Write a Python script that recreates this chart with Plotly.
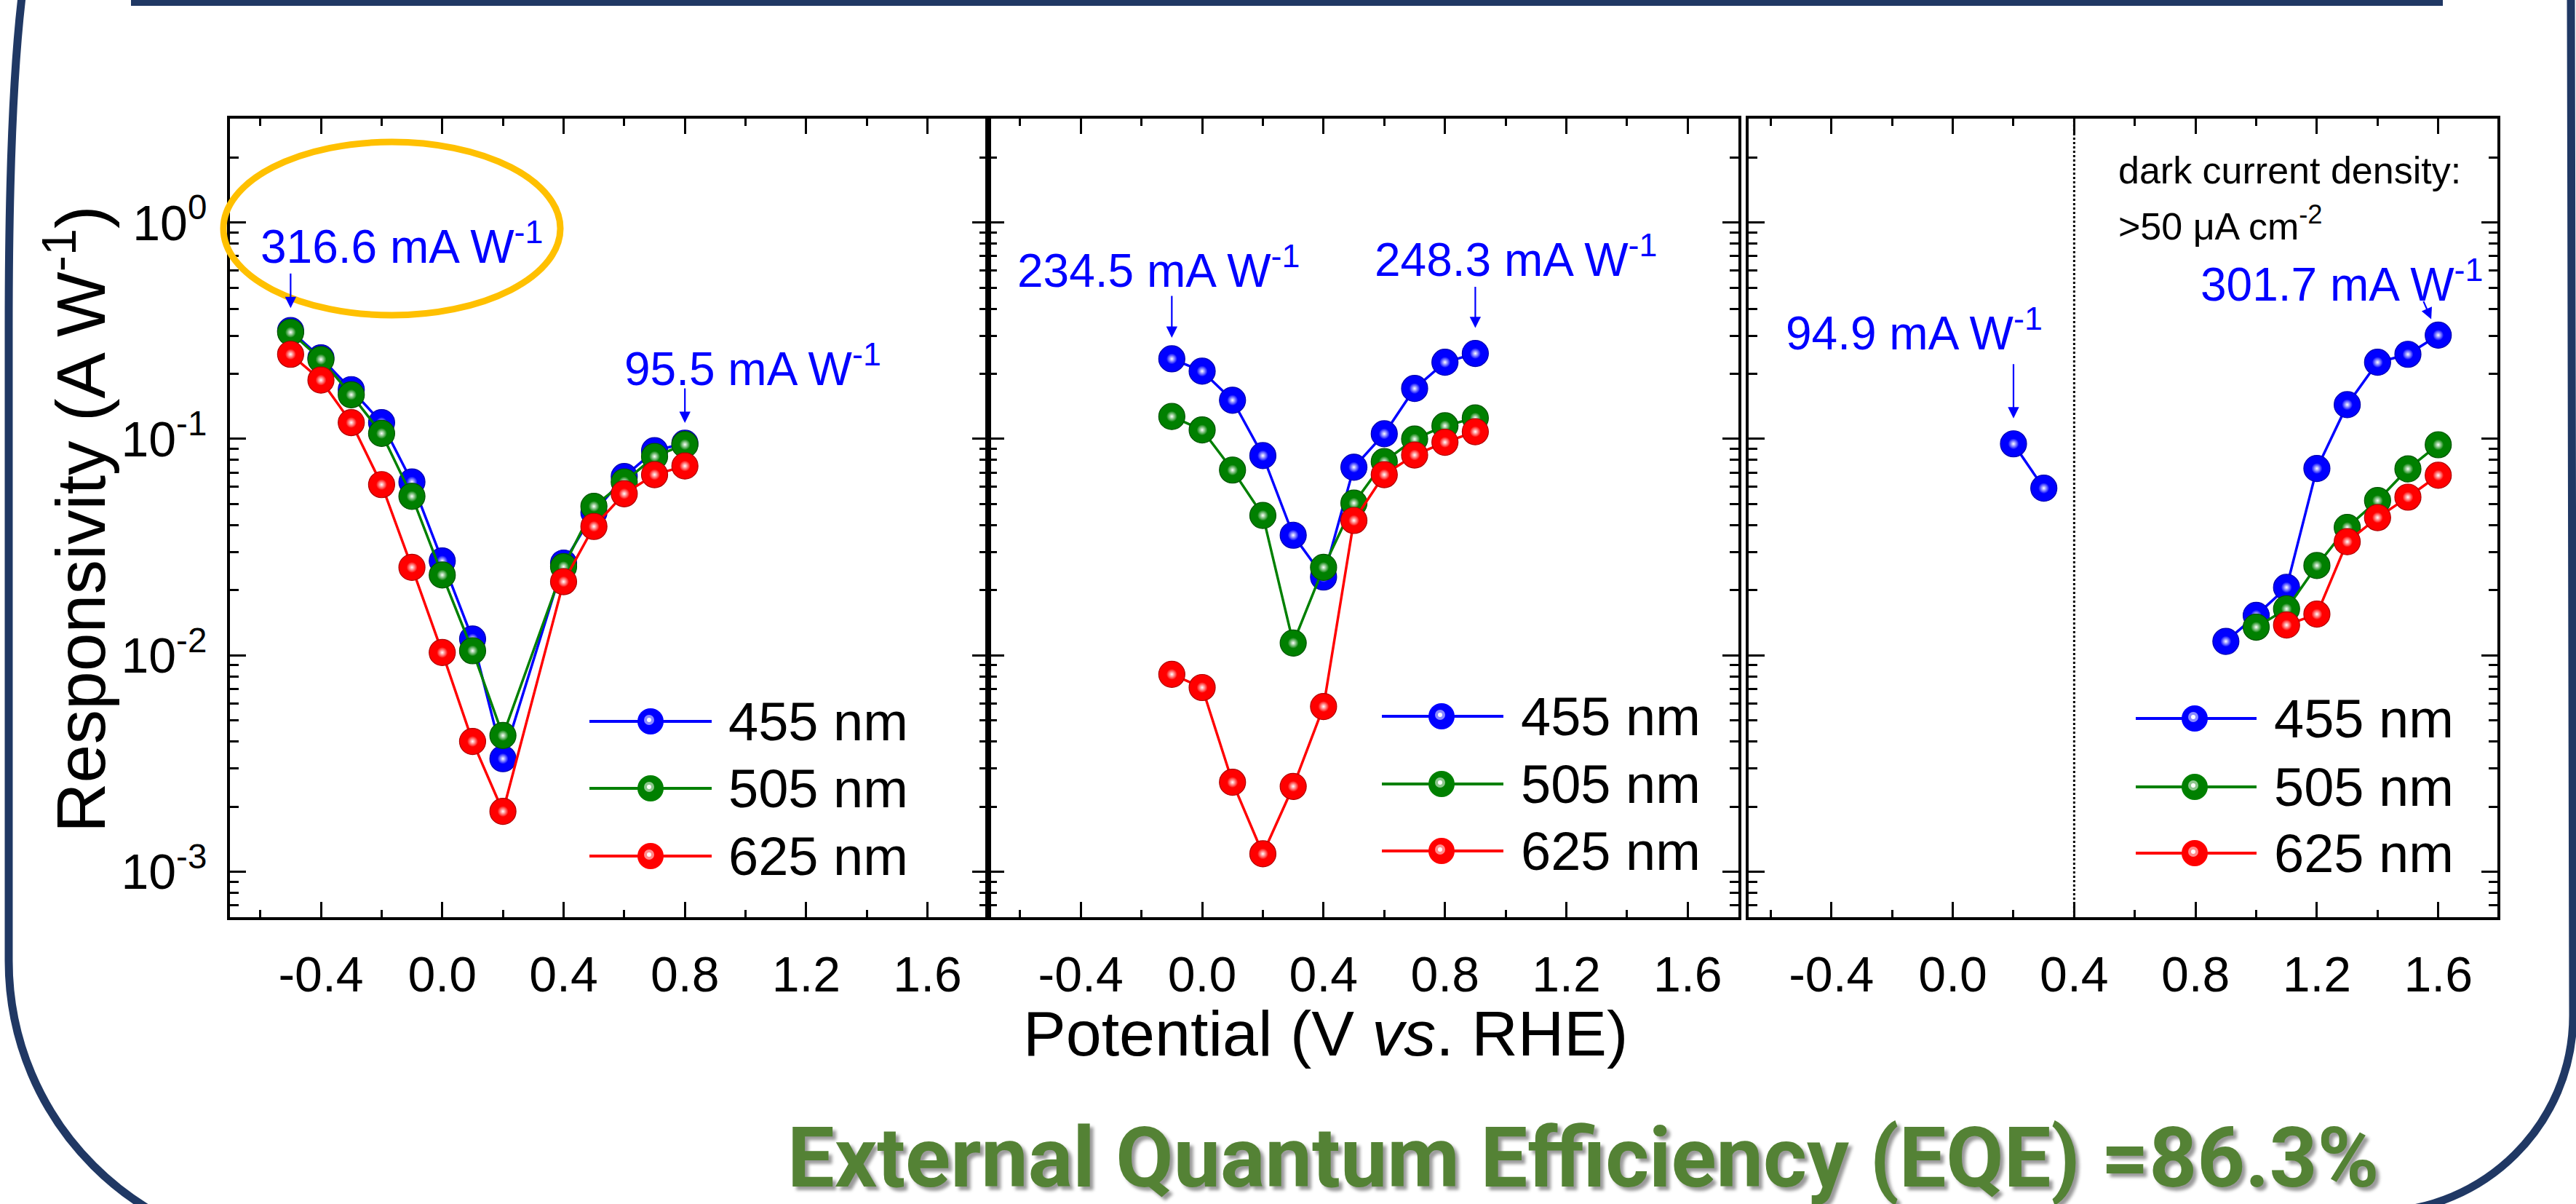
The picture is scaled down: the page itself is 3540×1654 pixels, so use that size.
import math
import plotly.graph_objects as go

W, H = 3540, 1654
FONT = "Liberation Sans, Arial, sans-serif"

# ---------------- data ----------------
series_names = ["455 nm", "505 nm", "625 nm"]
series_colors = ["#0000FF", "#008000", "#FF0000"]
series_edges = ["#0000B0", "#005400", "#B00000"]

# Panel 1
p1_x = [-0.5, -0.4, -0.3, -0.2, -0.1, 0.0, 0.1, 0.2, 0.4, 0.5, 0.6, 0.7, 0.8]
p1_455 = [0.3166, 0.237, 0.169, 0.119, 0.0633, 0.0273, 0.0119, 0.00333, 0.0267, 0.0457, 0.067, 0.0883, 0.0955]
p1_505 = [0.311, 0.233, 0.160, 0.106, 0.0543, 0.0235, 0.0105, 0.00426, 0.0257, 0.0488, 0.0633, 0.083, 0.0942]
p1_625 = [0.246, 0.187, 0.119, 0.0615, 0.0255, 0.0103, 0.0040, 0.0019, 0.0219, 0.0394, 0.0558, 0.0684, 0.075]

# Panel 2
p2_x = [-0.1, 0.0, 0.1, 0.2, 0.3, 0.4, 0.5, 0.6, 0.7, 0.8, 0.9]
p2_455 = [0.2345, 0.2056, 0.151, 0.0837, 0.0359, 0.023, 0.074, 0.1056, 0.171, 0.226, 0.2483]
p2_505 = [0.127, 0.110, 0.0718, 0.0443, 0.0114, 0.0255, 0.0505, 0.0786, 0.0999, 0.115, 0.125]
p2_625 = [0.00817, 0.0071, 0.00259, 0.00121, 0.00248, 0.0058, 0.042, 0.0684, 0.0843, 0.0965, 0.108]

# Panel 3 (455 nm has a gap between 0.3 V and 0.9 V)
p3_x_455 = [0.2, 0.3, None, 0.9, 1.0, 1.1, 1.2, 1.3, 1.4, 1.5, 1.6]
p3_455 = [0.0949, 0.0592, None, 0.0116, 0.0153, 0.0206, 0.073, 0.144, 0.226, 0.246, 0.3017]
p3_x_505 = [1.0, 1.1, 1.2, 1.3, 1.4, 1.5, 1.6]
p3_505 = [0.0135, 0.0164, 0.026, 0.039, 0.0519, 0.0727, 0.094]
p3_x_625 = [1.1, 1.2, 1.3, 1.4, 1.5, 1.6]
p3_625 = [0.0138, 0.0155, 0.0335, 0.0433, 0.0538, 0.0679]

# value call-outs: (panel, x, y, label)
callouts = [
    (1, p1_x[0], p1_455[0], "316.6 mA W<sup>-1</sup>"),
    (1, p1_x[-1], p1_455[-1], "95.5 mA W<sup>-1</sup>"),
    (2, p2_x[0], p2_455[0], "234.5 mA W<sup>-1</sup>"),
    (2, p2_x[-1], p2_455[-1], "248.3 mA W<sup>-1</sup>"),
    (3, p3_x_455[0], p3_455[0], "94.9 mA W<sup>-1</sup>"),
    (3, p3_x_455[-1], p3_455[-1], "301.7 mA W<sup>-1</sup>"),
]

x_tick_vals = [-0.4, 0.0, 0.4, 0.8, 1.2, 1.6]
x_tick_text = ["-0.4", "0.0", "0.4", "0.8", "1.2", "1.6"]
y_tick_vals = [1e-3, 1e-2, 1e-1, 1e0]
y_tick_text = ["10<sup>-3</sup>", "10<sup>-2</sup>", "10<sup>-1</sup>", "10<sup>0</sup>"]
y_minor_vals = [m * 10.0 ** e for e in range(-4, 1) for m in range(2, 10)]

title_text = "External Quantum Efficiency (EQE) =86.3%"
x_title = "Potential (V <i>vs</i>. RHE)"
y_title = "Responsivity (A W<sup>-1</sup>)"


def X(px):
    return px / W


def Y(py):
    return 1 - py / H


fig = go.Figure()

panels = [
    (1, [(p1_x, p1_455), (p1_x, p1_505), (p1_x, p1_625)]),
    (2, [(p2_x, p2_455), (p2_x, p2_505), (p2_x, p2_625)]),
    (3, [(p3_x_455, p3_455), (p3_x_505, p3_505), (p3_x_625, p3_625)]),
]

for pi, sers in panels:
    xa = "x" if pi == 1 else f"x{pi}"
    ya = "y" if pi == 1 else f"y{pi}"
    for k, (xs, ys) in enumerate(sers):
        fig.add_trace(go.Scatter(
            x=xs, y=ys, mode="lines+markers", name=series_names[k],
            xaxis=xa, yaxis=ya, showlegend=False, connectgaps=False,
            line=dict(color=series_colors[k], width=3.5),
            marker=dict(size=36, color=series_colors[k],
                        line=dict(color=series_edges[k], width=1.2)),
        ))
        # glossy highlight
        fig.add_trace(go.Scatter(
            x=xs, y=ys, mode="markers", xaxis=xa, yaxis=ya,
            showlegend=False, hoverinfo="skip",
            marker=dict(size=15, color=series_colors[k],
                        gradient=dict(type="radial", color="white"),
                        line=dict(width=0)),
        ))

# ---------------- axes ----------------
ydom = [Y(1260), Y(163)]
x_domains = [[X(316), X(1358)], [X(1358), X(2389)], [X(2403), X(3432)]]
x_ranges = [[-0.7, 1.8], [-0.705, 1.767], [-0.673, 1.795]]

tickfont = dict(family=FONT, size=68, color="black")
for i in range(3):
    key = "xaxis" if i == 0 else f"xaxis{i+1}"
    fig.layout[key] = dict(
        domain=x_domains[i], range=x_ranges[i], anchor="y" if i == 0 else f"y{i+1}",
        tickmode="array", tickvals=x_tick_vals, ticktext=x_tick_text,
        ticks="inside", ticklen=21, tickwidth=3, tickcolor="black",
        showline=True, linewidth=4, linecolor="black", mirror="ticks",
        showgrid=False, zeroline=False, tickfont=tickfont, ticklabelstandoff=16,
        minor=dict(tickmode="linear", tick0=0, dtick=0.2, ticks="inside",
                   ticklen=10, tickwidth=3, tickcolor="black", showgrid=False),
    )
    ykey = "yaxis" if i == 0 else f"yaxis{i+1}"
    fig.layout[ykey] = dict(
        domain=ydom, type="log", range=[-3.21, 0.48],
        anchor="x" if i == 0 else f"x{i+1}",
        tickmode="array", tickvals=y_tick_vals, ticktext=y_tick_text,
        showticklabels=(i == 0),
        ticks="inside", ticklen=22, tickwidth=3, tickcolor="black",
        showline=True, linewidth=4, linecolor="black", mirror="ticks",
        showgrid=False, zeroline=False, tickfont=tickfont, ticklabelstandoff=14,
        minor=dict(tickmode="array", tickvals=y_minor_vals, ticks="inside",
                   ticklen=12, tickwidth=3, tickcolor="black", showgrid=False),
    )

shapes = []
annotations = []

# dotted line in panel 3 at 0.4 V
shapes.append(dict(type="line", xref="x3", yref="y3 domain", x0=0.4, x1=0.4, y0=0, y1=1,
                   line=dict(color="black", width=3, dash="dot")))

# ---------------- call-outs ----------------
label_pos = [(356, 334), (856, 502), (1396, 367), (1887, 352), (2452, 453), (3022, 386)]
arrow_geo = [(0, -80, 31), (0, -77, 28), (0, -88, 29), (0, -93, 35), (0, -111, 35), (-21, -48, 24)]
for (pi, xv, yv, txt), (lx, ly), (ax, ay, so) in zip(callouts, label_pos, arrow_geo):
    annotations.append(dict(text=txt, xref="paper", yref="paper", x=X(lx), y=Y(ly),
                            xanchor="left", yanchor="middle", showarrow=False,
                            font=dict(family=FONT, size=64, color="#0000FF")))
    annotations.append(dict(text="", xref="x" if pi == 1 else f"x{pi}",
                            yref="y" if pi == 1 else f"y{pi}",
                            x=xv, y=math.log10(yv), ax=ax, ay=ay, showarrow=True,
                            arrowhead=2, arrowsize=1.4, arrowwidth=2.2,
                            arrowcolor="#0000FF", standoff=so))

# dark current note
annotations.append(dict(text="dark current density:", xref="paper", yref="paper",
                        x=X(2909), y=Y(234), xanchor="left", yanchor="middle", showarrow=False,
                        font=dict(family=FONT, size=52, color="black")))
annotations.append(dict(text=">50 \u03bcA cm<sup>-2</sup>", xref="paper", yref="paper",
                        x=X(2909), y=Y(307), xanchor="left", yanchor="middle", showarrow=False,
                        font=dict(family=FONT, size=52, color="black")))

# ---------------- legends (one per panel) ----------------
legend_geo = [
    (810, 978, 894, 999, [991, 1083, 1176]),
    (1899, 2066, 1981, 2088, [984, 1077, 1169]),
    (2935, 3101, 3016, 3123, [987, 1081, 1172]),
]
for (lx0, lx1, mx, tx, rows) in legend_geo:
    for k, ry in enumerate(rows):
        c = series_colors[k]
        shapes.append(dict(type="line", xref="paper", yref="paper",
                           x0=X(lx0), x1=X(lx1), y0=Y(ry), y1=Y(ry),
                           line=dict(color=c, width=4)))
        shapes.append(dict(type="circle", xref="paper", yref="paper",
                           x0=X(mx - 18), x1=X(mx + 18), y0=Y(ry + 18), y1=Y(ry - 18),
                           fillcolor=c, line=dict(width=0)))
        for r, col in [(7, "rgba(255,255,255,0.55)"), (3, "white")]:
            shapes.append(dict(type="circle", xref="paper", yref="paper",
                               x0=X(mx - r - 2), x1=X(mx + r - 2),
                               y0=Y(ry + r - 2), y1=Y(ry - r - 2),
                               fillcolor=col, line=dict(width=0)))
        annotations.append(dict(text=series_names[k], xref="paper", yref="paper",
                                x=X(tx), y=Y(ry), xanchor="left", yanchor="middle",
                                showarrow=False, font=dict(family=FONT, size=74, color="black")))

# axis titles
annotations.append(dict(text=x_title, xref="paper", yref="paper", x=X(1822), y=Y(1419),
                        xanchor="center", yanchor="middle", showarrow=False,
                        font=dict(family=FONT, size=88, color="black")))
annotations.append(dict(text=y_title, xref="paper", yref="paper", x=X(104), y=Y(713),
                        xanchor="center", yanchor="middle", textangle=-90, showarrow=False,
                        font=dict(family=FONT, size=95, color="black")))

# big green headline
annotations.append(dict(text=title_text, xref="paper", yref="paper", x=X(2176), y=Y(1590),
                        xanchor="center", yanchor="middle", showarrow=False,
                        font=dict(family="Roboto, Liberation Sans, sans-serif",
                                  size=115, weight="bold", color="#548235",
                                  shadow="5px 5px 4px rgba(0,0,0,0.40)")))

# yellow highlight ellipse
shapes.append(dict(type="circle", xref="paper", yref="paper",
                   x0=X(307), x1=X(770), y0=Y(433), y1=Y(195),
                   line=dict(color="#FFC000", width=9), fillcolor="rgba(0,0,0,0)"))

# decorative frame
NAVY = "#203864"
shapes.append(dict(type="rect", xref="paper", yref="paper", x0=X(180), x1=X(3357),
                   y0=Y(8), y1=Y(-2), fillcolor=NAVY, line=dict(width=0)))
left_path = (f"M {X(30)},{Y(-4)} Q {X(12)},{Y(150)} {X(12)},{Y(450)} "
             f"L {X(12)},{Y(1320)} C {X(12)},{Y(1540)} {X(190)},{Y(1718)} {X(410)},{Y(1718)}")
right_path = (f"M {X(3533)},{Y(-4)} L {X(3536)},{Y(1395)} "
              f"C {X(3536)},{Y(1544)} {X(3414)},{Y(1665)} {X(3265)},{Y(1665)}")
for p in (left_path, right_path):
    shapes.append(dict(type="path", xref="paper", yref="paper", path=p,
                       line=dict(color=NAVY, width=11)))

fig.update_layout(
    width=W, height=H, autosize=False,
    margin=dict(l=0, r=0, t=0, b=0),
    paper_bgcolor="white", plot_bgcolor="white",
    showlegend=False, hovermode=False,
    shapes=shapes, annotations=annotations,
    font=dict(family=FONT, color="black"),
)

fig.write_html("out.html", config={"displayModeBar": False},
               post_script="document.body.style.margin='0';document.body.style.overflow='hidden';")
